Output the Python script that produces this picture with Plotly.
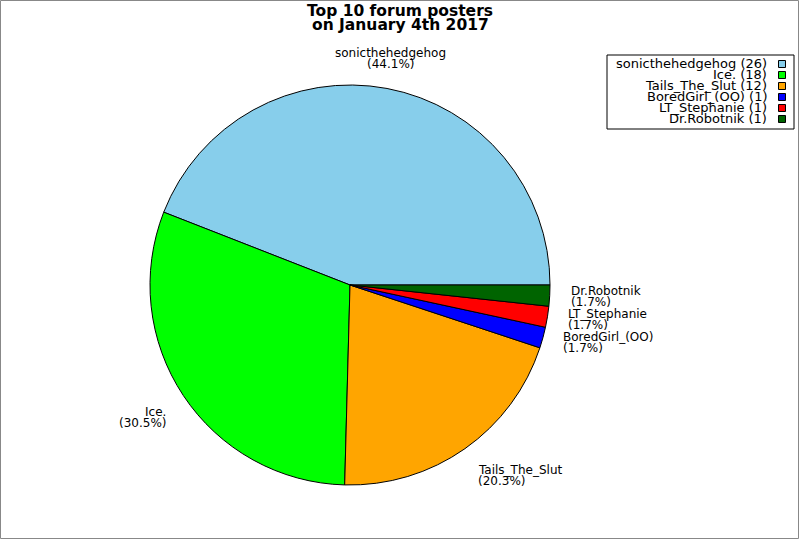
import plotly.graph_objs as go
import numpy as np

W, H = 800, 540

posters = ["sonicthehedgehog", "Ice.", "Tails_The_Slut", "BoredGirl_(OO)", "LT_Stephanie", "Dr.Robotnik"]
post_counts = [26, 18, 12, 1, 1, 1]
slice_colors = ["#87CEEB", "#00FF00", "#FFA500", "#0000FF", "#FF0000", "#006400"]

title_lines = ["Top 10 forum posters", "on January 4th 2017"]

FONT = "DejaVu Sans"

# pie geometry in pixels
cx, cy, radius = 350, 285, 200


def px(x):
    return x / W


def py(y):
    return 1 - y / H


def main():
    vals = np.array(post_counts, dtype=float)
    total = vals.sum()

    # plotly's counterclockwise puts the END of the first slice at rotation,
    # so shift it back so the first slice starts at 3 o'clock
    start_rot = 90 - vals[0] / total * 360

    fig = go.Figure()
    fig.add_trace(go.Pie(labels=posters, values=post_counts, sort=False,
                         direction="counterclockwise", rotation=start_rot,
                         marker=dict(colors=slice_colors, line=dict(color="black", width=1)),
                         textinfo="none", hoverinfo="label+value+percent",
                         domain=dict(x=[px(cx - radius), px(cx + radius)],
                                     y=[py(cy + radius), py(cy - radius)]),
                         showlegend=False))

    annotations = []
    shapes = []

    # slice labels, placed at mid angle of each slice
    ends = np.cumsum(vals) / total * 360
    mids = ends - vals / total * 180
    line_h = 11
    for name, v, a in zip(posters, vals, mids):
        rad = np.radians(a)
        c, s = np.cos(rad), np.sin(rad)
        ax = cx + (radius + 19) * c
        ay = cy - (radius + 19) * s
        if abs(c) < 0.3:
            xa = "center"
        elif c > 0:
            xa = "left"
        else:
            xa = "right"
        if s > 0.5:
            centers = [ay - 1.5 * line_h, ay - 0.5 * line_h]
        elif s < -0.5:
            centers = [ay + 0.5 * line_h, ay + 1.5 * line_h]
        else:
            centers = [ay - 0.5 * line_h, ay + 0.5 * line_h]
        texts = [name, "(%.1f%%)" % (v / total * 100)]
        for t, yc in zip(texts, centers):
            annotations.append(dict(x=px(ax), y=py(yc), xref="paper", yref="paper",
                                    text=t, showarrow=False, xanchor=xa, yanchor="middle",
                                    font=dict(family=FONT, size=12, color="black")))

    # title
    for i, t in enumerate(title_lines):
        annotations.append(dict(x=0.5, y=py(10.5 + i * 14), xref="paper", yref="paper",
                                text="<b>%s</b>" % t, showarrow=False,
                                xanchor="center", yanchor="middle",
                                font=dict(family=FONT, size=15.5, color="black")))

    # legend box with symbols on the right
    shapes.append(dict(type="rect", xref="paper", yref="paper",
                       x0=px(607), x1=px(794), y0=py(55), y1=py(129),
                       line=dict(color="black", width=1), fillcolor="white", layer="below"))
    for i, (name, n, col) in enumerate(zip(posters, post_counts, slice_colors)):
        yc = 64 + i * 11
        annotations.append(dict(x=px(769), y=py(yc), xref="paper", yref="paper",
                                text="%s (%d)" % (name, n), showarrow=False,
                                xanchor="right", yanchor="middle",
                                font=dict(family=FONT, size=13, color="black")))
        shapes.append(dict(type="rect", xref="paper", yref="paper",
                           x0=px(778.5), x1=px(785.5), y0=py(yc + 3.5), y1=py(yc - 3.5),
                           line=dict(color="black", width=1), fillcolor=col))

    # frame around the image
    shapes.append(dict(type="rect", xref="paper", yref="paper",
                       x0=px(0.5), x1=px(798.5), y0=py(538.5), y1=py(0.5),
                       line=dict(color="#888888", width=1)))

    fig.update_layout(width=W, height=H, margin=dict(l=0, r=0, t=0, b=0),
                      paper_bgcolor="white", plot_bgcolor="white",
                      annotations=annotations, shapes=shapes,
                      font=dict(family=FONT, color="black"))
    fig.write_html("out.html", config={"displayModeBar": False},
                   post_script="document.body.style.margin='0';")


if __name__ == "__main__":
    main()
